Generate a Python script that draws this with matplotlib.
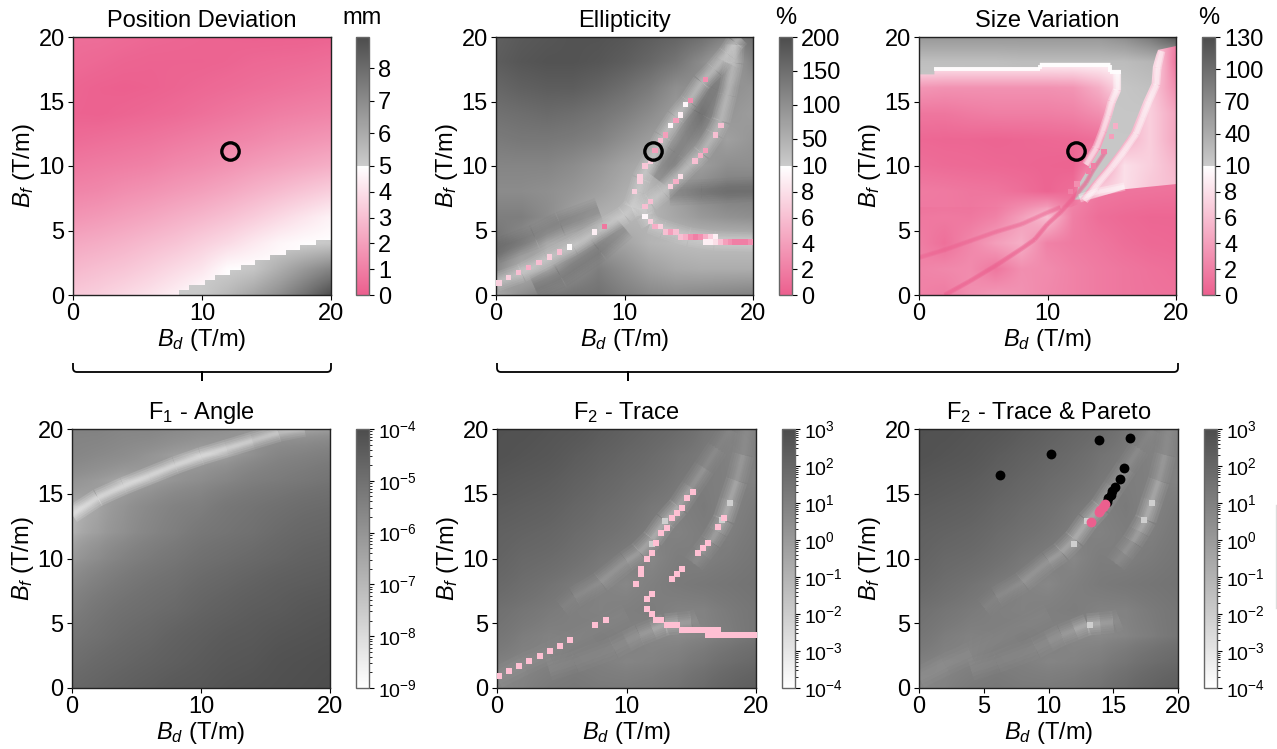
import numpy as np
import matplotlib
matplotlib.use('Agg')
import matplotlib.pyplot as plt
from matplotlib.colors import LinearSegmentedColormap, TwoSlopeNorm, LogNorm, to_rgb
from matplotlib.collections import LineCollection
from matplotlib.patches import Polygon, PathPatch
from matplotlib.path import Path
from matplotlib.lines import Line2D

plt.rcParams['font.family'] = ['Liberation Sans', 'DejaVu Sans']
plt.rcParams['mathtext.fontset'] = 'custom'
plt.rcParams['mathtext.rm'] = 'Liberation Sans'
plt.rcParams['mathtext.it'] = 'Liberation Sans:italic'
plt.rcParams['mathtext.default'] = 'regular'

PINK = '#ec5f8e'
W, H = 1277, 749

# position deviation, mm, rows y=20..0, columns x=0..20 step 2
pos_grid = [
    [.5, .5, .4, .3, .25, .2, .15, .1, .1, .1, .15],
    [.4, .3, .2, .15, .15, .15, .2, .3, .35, .4, .5],
    [.2, .1, .05, .1, .2, .3, .4, .5, .6, .7, .8],
    [.15, .1, .2, .3, .4, .55, .7, .85, 1, 1.1, 1.2],
    [.4, .5, .6, .7, .85, 1, 1.15, 1.3, 1.5, 1.65, 1.8],
    [.8, .9, 1, 1.1, 1.3, 1.45, 1.65, 1.9, 2.1, 2.3, 2.5],
    [1.2, 1.3, 1.5, 1.65, 1.85, 2.05, 2.3, 2.6, 2.9, 3.2, 3.5],
    [1.7, 1.85, 2.05, 2.25, 2.5, 2.75, 3.05, 3.4, 3.8, 4.2, 4.6],
    [2.3, 2.45, 2.65, 2.9, 3.15, 3.5, 3.85, 4.3, 4.7, 4.9, 5.1],
    [2.8, 3, 3.2, 3.5, 3.85, 4.2, 4.9, 5.2, 5.9, 6.6, 7.2],
    [3.3, 3.5, 3.8, 4.1, 4.5, 5.1, 5.6, 6.2, 6.9, 7.8, 8.9],
]
stair_x = [8.2, 9, 10.2, 11, 12.2, 13, 14.1, 15.3, 16.5, 17.6, 18.8, 20]
stair_y = [.36, .75, 1.14, 1.53, 1.94, 2.33, 2.72, 3.1, 3.5, 3.9, 4.3]

# ellipticity, %
ell_grid = [
    [170, 180, 185, 190, 190, 185, 175, 165, 150, 120, 150],
    [175, 185, 190, 190, 185, 175, 160, 140, 105, 60, 120],
    [160, 170, 175, 175, 165, 150, 130, 100, 100, 100, 90],
    [145, 150, 155, 150, 140, 125, 105, 80, 120, 90, 80],
    [130, 135, 135, 130, 120, 100, 80, 75, 105, 75, 90],
    [115, 115, 115, 105, 90, 70, 55, 95, 80, 100, 100],
    [105, 105, 100, 90, 75, 55, 40, 75, 110, 130, 130],
    [125, 125, 105, 75, 50, 40, 45, 65, 85, 95, 100],
    [145, 105, 55, 55, 85, 70, 45, 35, 30, 30, 30],
    [110, 50, 60, 100, 125, 100, 75, 60, 55, 55, 55],
    [60, 100, 130, 140, 145, 125, 110, 105, 110, 115, 120],
]
ell_r1x = [0, 2, 4, 6, 8, 10, 10.6, 11, 11.3, 12, 13, 14, 15, 16, 17, 18, 18.6, 19]
ell_r1y = [1, 1.7, 2.8, 3.8, 5, 6.2, 6.8, 8, 9, 10.3, 12.3, 13.8, 15, 16.5, 17.5, 18.7, 19.6, 20]
ell_r2x = [10.6, 11.6, 12, 13, 14, 15, 16, 17, 17.5, 18, 18.5, 18.6]
ell_r2y = [6.6, 7, 7.2, 8, 9, 10, 11, 12.5, 13.5, 15.5, 18, 19.4]
ell_r3x = [11.5, 11.6, 12, 13, 14, 15, 17, 20]
ell_r3y = [6.8, 6.2, 5.5, 5.1, 4.8, 4.5, 4.2, 4.1]
ell_v1x = [12.5, 14, 16, 17, 18]
ell_v1y = [9, 11, 14, 16, 18]
ell_v2x = [3, 5, 8, 10]
ell_v2y = [.6, 1.5, 3.5, 5.2]
ell_v3x = [0, 3, 5, 8]
ell_v3y = [3.4, 4.5, 5.5, 6.6]
ell_v4x = [13.5, 16, 20]
ell_v4y = [7.9, 8, 8.2]
ell_cell_x = [.23, .98, 1.75, 2.55, 3.34, 4.14, 4.94, 5.72, 7.68, 8.46,
              10.8, 11.2, 11.2, 11.6, 12, 12.37, 12.8, 13.2, 13.6, 14, 14.35, 14.75, 15.15, 16.3,
              12, 13.6, 14, 14.35, 15.5, 15.9, 16.3, 17.1, 17.5,
              11.6, 11.6, 12, 12.37, 12.8, 13.2, 13.6, 14, 14.35,
              14.75, 15.15, 15.55, 15.9, 16.3, 16.7, 17.1,
              16.3, 16.7, 17.1, 17.5, 17.9, 18.3, 18.6, 19, 19.4, 19.8]
ell_cell_y = [.93, 1.34, 1.76, 2.14, 2.53, 2.95, 3.33, 3.72, 4.88, 5.3,
              8.04, 8.8, 9.2, 10, 10.4, 11.2, 12, 12.4, 13.15, 13.55, 13.95, 14.75, 15.1, 16.7,
              7.25, 8.4, 8.8, 9.2, 10.4, 10.8, 11.2, 12.4, 13.15,
              6.87, 6.07, 5.68, 5.3, 5.3, 4.88, 4.88, 4.88, 4.5,
              4.5, 4.5, 4.5, 4.5, 4.5, 4.5, 4.5,
              4.1, 4.1, 4.1, 4.1, 4.1, 4.1, 4.1, 4.1, 4.1, 4.1]
ell_cell_v = [7, 7, 6, 5, 6, 7, 6, 9.8, 9, 1.5,
              7, 7, 7, 6.5, 7, 4, 6, 4, 9.5, 4, 9, 9.5, 3, 3,
              6, 7, 5, 8, 6, 5, 4, 6, 6,
              6, 9.5, 7, 5, 7, 6, 4, 6, 6,
              5, 3, 2, 3, 5, 7, 9,
              9, 9, 8, 6, 4, 3, 2, 2, 2, 3]

# size variation, %
size_grid = [
    [2, 2, 2, 2, 2, 2, 2, 2, 4, 8, 2],
    [9.5, 9.5, 9.5, 9.5, 9.5, 9.5, 9.5, 9.5, 9.5, 9, 1.5],
    [3.5, 3.2, 3.2, 3.2, 3.2, 3.2, 3.4, 5, 8, 7, 3],
    [1.5, 1.5, 1.8, 2, 2, 2, 2.2, 3, 5, 7, 4.5],
    [.6, .5, .5, .4, .5, .6, .7, 1, 5, 7, 4.5],
    [1, .8, .7, .6, .5, .4, .3, 3, 8, 7, 5.5],
    [1.8, 1.7, 1.5, 1.4, 1, .4, 1, 7, 8, 6.5, 6],
    [1.6, 1.7, 1.6, 2.2, 4, 6, 2, 1, .7, .5, .5],
    [2, 1.1, 2.5, 4, 5, 2.2, 1.8, 1.5, 1, .7, .6],
    [2.3, 2.6, 2.8, 1.5, 3, 2.8, 2.2, 1.8, 1.5, 1.2, 1],
    [2.2, 1.8, 3, 3.6, 3.2, 2.6, 2.2, 1.8, 1.5, 1.3, 1.2],
]
size_low_grid = [
    [2, 2, 2, 2, 2, 2, 2, 2, 2, 2, 2],
    [2, 2, 2, 2, 2, 2, 2, 2, 2, 2, 2],
    [2, 2, 2, 2, 2, 2, 2, 2, 2, 2, 2],
    [2, 2, 2, 2, 2, 2, 2, 2, 2, 2, 2],
    [2, 2, 2, 2, 2, 2, 2, 2, 2, 2, 2],
    [2, 2, 2, 2, 2, 2, 2, 2, 1.6, 1.6, 1.6],
    [1, 1, 1, 1, 1, 1, 2.5, 1.6, 1.4, 1.3, 1.2],
    [1.6, 1.7, 1.6, 2.2, 4, 6, 2, 1, .7, .5, .5],
    [2, 1.1, 2.5, 4, 5, 2.2, 1.8, 1.5, 1, .7, .6],
    [2.3, 2.6, 2.8, 1.5, 3, 2.8, 2.2, 1.8, 1.5, 1.2, 1],
    [2.2, 1.8, 3, 3.6, 3.2, 2.6, 2.2, 1.8, 1.5, 1.3, 1.2],
]
size_gray_grid = [
    [60, 60, 60, 60, 60, 60, 60, 60, 70, 90, 125],
    [22, 22, 22, 22, 24, 24, 24, 24, 24, 30, 30],
    [12, 12, 14, 14, 15, 15, 16, 16, 16, 20, 20],
    [12, 12, 12, 12, 12, 12, 14, 14, 15, 15, 15],
    [12, 12, 12, 12, 12, 12, 14, 14, 14, 14, 14],
    [12, 12, 12, 12, 12, 12, 13, 14, 14, 14, 14],
    [12, 12, 12, 12, 12, 12, 13, 13, 13, 13, 13],
    [12, 12, 12, 12, 12, 12, 13, 13, 13, 13, 13],
    [12, 12, 12, 12, 12, 12, 13, 13, 13, 13, 13],
    [12, 12, 12, 12, 12, 12, 13, 13, 13, 13, 13],
    [12, 12, 12, 12, 12, 12, 13, 13, 13, 13, 13],
]
size_gray_x = [0, 20, 20, 18.6, 18.45, 18.2, 18.1, 17.5, 17, 16.5, 15.6, 14.6, 13.5, 12.5,
               12.1, 12.5, 13.3, 14.1, 14.6, 15, 15.3, 15.7, 15.7, 14.9, 14.9, 9.4, 9.4, 1.2, 1.2, 0]
size_gray_y = [20, 20, 19.3, 19, 18.6, 17.7, 16.4, 15.1, 13.85, 12.6, 11.3, 10, 8.7, 7.4,
               7.4, 8.7, 10, 11.3, 12.6, 13.85, 14.9, 15.8, 17.45, 17.45, 18, 18, 17.65, 17.65, 17.1, 17.1]
size_low_x = [11.8, 13, 16, 20, 20, 0, 0, 11.8]
size_low_y = [6.8, 7.3, 8.2, 8.6, 0, 0, 6.8, 6.8]
size_l1x = [0, 2, 4, 6, 8, 10, 11]
size_l1y = [2.9, 3.5, 4.2, 4.9, 5.5, 6.4, 6.8]
size_l2x = [2, 4, 6, 8, 9, 10, 11, 12, 13, 13.5, 14.5]
size_l2y = [0, 1.1, 2.3, 3.6, 4.3, 5.5, 6.4, 7.5, 8.7, 9.6, 11.1]
size_wr_x = [12.9, 13.9, 15, 16, 16.9, 17.4, 17.9, 18.5, 18.6, 18.9]
size_wr_y = [7.3, 8.6, 9.9, 11.2, 12.5, 13.75, 15, 16.3, 17.6, 18.9]
size_wl_x = [13, 13.8, 14.3, 14.7, 15, 15.4, 15.4]
size_wl_y = [10.1, 11.4, 12.7, 13.9, 15, 15.9, 17.2]
size_wt_x = [1.2, 9.4, 9.4, 14.9, 14.9, 15.7]
size_wt_y = [17.5, 17.5, 17.85, 17.85, 17.3, 17.3]
size_tip_x = [12.5, 14, 16]
size_tip_y = [7.5, 8, 8.4]
size_cell_x = [15.3, 15, 14.4, 13.6, 13.2, 12.3, 11.8]
size_cell_y = [13.1, 12.3, 11.1, 10, 9.6, 8.6, 8]
size_cell_v = [5, 4, 2, 2, 2, 3, 2]

# F1 angle, log10 of the value
f1_grid = [
    [-5.5, -5.5, -5.6, -5.6, -5.7, -5.8, -5.9, -6.1, -6.5, -6.7, -6.4],
    [-5.6, -5.7, -5.8, -6.0, -6.3, -6.7, -6.4, -5.9, -5.6, -5.5, -5.4],
    [-6, -6.2, -6.8, -6.4, -6, -5.8, -5.6, -5.4, -5.3, -5.2, -5.1],
    [-7.3, -6.5, -6.0, -5.7, -5.5, -5.4, -5.2, -5.1, -5, -4.9, -4.85],
    [-6.9, -6.3, -5.9, -5.6, -5.4, -5.2, -5.1, -5, -4.85, -4.75, -4.7],
    [-6.2, -5.8, -5.5, -5.3, -5.15, -5, -4.9, -4.8, -4.7, -4.6, -4.55],
    [-5.7, -5.4, -5.2, -5.05, -4.95, -4.8, -4.7, -4.6, -4.5, -4.45, -4.4],
    [-5.4, -5.15, -5, -4.9, -4.8, -4.65, -4.55, -4.45, -4.4, -4.3, -4.25],
    [-5.15, -5, -4.85, -4.75, -4.6, -4.5, -4.4, -4.35, -4.25, -4.2, -4.15],
    [-4.95, -4.8, -4.7, -4.6, -4.5, -4.4, -4.3, -4.25, -4.15, -4.1, -4.05],
    [-4.75, -4.65, -4.55, -4.45, -4.35, -4.3, -4.2, -4.15, -4.1, -4.05, -4],
]
f1_rx = [0, 2, 4, 6, 8, 10, 12, 14, 16, 18]
f1_ry = [13.4, 14.7, 15.6, 16.4, 17.2, 17.9, 18.5, 19.1, 19.7, 20.1]
f1_rs = [1, 1, 1, 1, 1, 1, .9, .8, .6, .3]

# F2 trace, log10 of the value
f2_grid = [
    [2.8, 2.8, 2.7, 2.6, 2.4, 2.2, 2, 1.8, 1.4, 1.0, 1.0],
    [2.8, 2.7, 2.6, 2.4, 2.2, 2, 1.8, 1.5, 1.2, .9, 1.0],
    [2.6, 2.5, 2.4, 2.2, 2, 1.8, 1.6, 1.3, 1.1, 1, .9],
    [2.4, 2.3, 2.2, 2, 1.8, 1.6, 1.3, 1, 1.2, .8, 1.2],
    [2.2, 2.1, 2, 1.8, 1.6, 1.4, 1, .9, 1.1, 1, 1.3],
    [2.1, 1.9, 1.8, 1.6, 1.3, 1, .7, 1.1, 1, 1.2, 1.4],
    [1.9, 1.7, 1.5, 1.2, .9, .7, 1, 1.2, 1.3, 1.4, 1.5],
    [1.6, 1.4, 1.2, 1, .9, 1.0, 1.1, .9, .9, 1.2, 1.4],
    [1.4, 1.1, .9, 1.0, 1.1, 1.0, .7, .6, .8, 1.1, 1.4],
    [1.0, .8, .9, 1.1, 1.0, .8, .9, 1.1, 1.4, 1.7, 1.9],
    [.7, .9, 1.2, 1.3, 1.2, 1.2, 1.3, 1.5, 1.8, 2.1, 2.3],
]
f2_ax = [5, 6, 8, 10, 11, 12, 13, 14, 15, 16, 17, 18]
f2_ay = [6.2, 7, 8.2, 9.8, 10.5, 11.5, 12.9, 14, 15.5, 17, 18.5, 20]
f2_as = [.1, .2, .35, .5, .6, .8, 1, .8, .55, .35, .2, .1]
f2_bx = [15.2, 15.8, 16.5, 17, 17.5, 18, 18.5, 19, 19.3]
f2_by = [9.6, 10.4, 11.3, 12.1, 13, 14.5, 16, 18, 20]
f2_bs = [.1, .3, .5, .7, .9, .9, .6, .3, .15]
f2_cx = [10, 11, 12, 13, 14, 15, 15.5]
f2_cy = [3.6, 4.1, 4.5, 4.9, 5, 5.1, 5.3]
f2_cs = [.1, .3, .6, 1, .7, .3, .1]
f2_dx = [0, 2, 4, 6, 8, 10]
f2_dy = [.8, 1.8, 2.7, 3.7, 4.7, 5.7]
f2_ds = [.3, .3, .2, .15, .15, .15]
f2_ex = [4, 6, 9, 11]
f2_ey = [1.4, 2, 3.1, 4.1]
f2_es = [.15, .25, .3, .3]
f2_peak_x = [12, 13, 17.4, 13.2, 18]
f2_peak_y = [11.1, 12.9, 13, 4.9, 14.3]
trace_x = [.18, .93, 1.7, 2.5, 3.3, 4.08, 4.88, 5.65, 7.6, 8.4,
           10.76, 11.15, 11.15, 11.56, 11.95, 12.3, 12.7, 13.1, 13.5, 13.9, 14.3, 14.7, 15.1,
           11.95, 11.56, 11.56, 11.95, 12.3, 12.7, 13.1, 13.5, 13.9,
           13.5, 13.9, 14.3, 15.5, 15.9, 16.3, 17.1, 17.5]
trace_y = [.93, 1.32, 1.73, 2.12, 2.5, 2.89, 3.28, 3.69, 4.85, 5.24,
           8, 8.8, 9.2, 10, 10.4, 11.2, 11.95, 12.35, 13.15, 13.5, 13.9, 14.7, 15.1,
           7.25, 6.85, 6.07, 5.68, 5.28, 5.28, 4.88, 4.88, 4.88,
           8.4, 8.8, 9.2, 10.4, 10.8, 11.2, 12.4, 13.15]
trace_hx = [14.3, 14.7, 15.1, 15.5, 15.9, 16.3, 16.7, 17.1, 16.3, 16.7, 17.1, 17.5, 17.9, 18.3, 18.7, 19.1, 19.5, 19.9]
trace_hy = [4.5, 4.5, 4.5, 4.5, 4.5, 4.5, 4.5, 4.5, 4.1, 4.1, 4.1, 4.1, 4.1, 4.1, 4.1, 4.1, 4.1, 4.1]

pareto_bx = [6.24, 10.18, 13.9, 16.26, 15.8, 15.54, 15.15, 14.9, 14.8, 14.6, 14.5]
pareto_by = [16.47, 18.04, 19.15, 19.3, 17, 16.16, 15.5, 15.2, 14.9, 14.66, 14.4]
pareto_px = [14.35, 14.2, 14, 13.87, 13.3]
pareto_py = [14.2, 14, 13.76, 13.6, 12.8]
chosen_x = 12.2
chosen_y = 11.15


def split_cmap():
    return LinearSegmentedColormap.from_list('split', [
        (0, PINK), (.499, '#ffffff'), (.501, '#cbcbcb'), (1, '#4d4d4d')], N=512)


def axes_px(fig, l, t, r, b):
    return fig.add_axes([l / W, 1 - b / H, (r - l) / W, (b - t) / H])


def draw(ax, grid, cmap, norm, clip_x=None, clip_y=None):
    im = ax.imshow(grid, extent=[-1, 21, -1, 21], origin='upper', cmap=cmap, norm=norm,
                   interpolation='bilinear', interpolation_stage='data', aspect='auto', zorder=1)
    if clip_x is not None:
        im.set_clip_path(Polygon(np.column_stack([clip_x, clip_y]), transform=ax.transData))
    ax.set_xlim(0, 20)
    ax.set_ylim(0, 20)
    return im


def glow(ax, x, y, color='#d8d8d8', widths=(14, 11, 8, 6, 4, 2), alpha=.1, strength=None):
    # soft ridge: stack of thin-to-wide strokes, strength fades it along its length
    pts = np.column_stack([x, y])
    segs = [pts[i:i + 2] for i in range(len(pts) - 1)]
    if strength is None:
        strength = [1] * len(pts)
    rgb = to_rgb(color)
    cols = [rgb + (alpha * (strength[i] + strength[i + 1]) / 2,) for i in range(len(segs))]
    for w in widths:
        ax.add_collection(LineCollection(segs, colors=cols, linewidths=w, capstyle='butt', zorder=2))


def style(ax, xticks=(0, 10, 20)):
    ax.set_xticks(list(xticks))
    ax.set_yticks([0, 5, 10, 15, 20])
    ax.tick_params(labelsize=17, length=3.5, width=.8, pad=2.5)
    ax.set_xlabel(r'$\mathit{B_d}$ (T/m)', fontsize=17, labelpad=1)
    ax.set_ylabel(r'$\mathit{B_f}$ (T/m)', fontsize=17, labelpad=1)
    for s in ax.spines.values():
        s.set_color('#222222')
        s.set_linewidth(1)


def cbar(fig, im, pos, ticks=None, labelsize=17):
    cax = axes_px(fig, *pos)
    cb = fig.colorbar(im, cax=cax, ticks=ticks)
    cb.outline.set_edgecolor('#666666')
    cb.outline.set_linewidth(1)
    cax.tick_params(labelsize=labelsize, length=3.5, width=.8, pad=3)
    return cb


def bracket(fig, x0, x1, xm):
    y0, y1, y2, r = 363, 372, 381, 4
    pts = [(x0, y0), (x0, y1 - r), (x0, y1), (x0 + r, y1), (xm, y1), (xm, y2), (xm, y1),
           (x1 - r, y1), (x1, y1), (x1, y1 - r), (x1, y0)]
    codes = [Path.MOVETO, Path.LINETO, Path.CURVE3, Path.CURVE3, Path.LINETO, Path.LINETO,
             Path.LINETO, Path.LINETO, Path.CURVE3, Path.CURVE3, Path.LINETO]
    verts = [(px / W, 1 - py / H) for px, py in pts]
    fig.add_artist(PathPatch(Path(verts, codes), fc='none', ec='black', lw=1.3,
                             transform=fig.transFigure))


fig = plt.figure(figsize=(12.77, 7.49), dpi=100)
cmap = split_cmap()
gray = LinearSegmentedColormap.from_list('g', ['#ffffff', '#4d4d4d'], N=512)

# top row
ax1 = axes_px(fig, 73, 37, 331, 295)
norm1 = TwoSlopeNorm(vmin=0, vcenter=5, vmax=8.95)
pos = np.array(pos_grid)
im1 = draw(ax1, np.minimum(pos, 4.99), cmap, norm1)
stair_px = [stair_x[0]]
stair_py = [0]
for i, v in enumerate(stair_y):
    stair_px += [stair_x[i], stair_x[i + 1]]
    stair_py += [v, v]
stair_px += [20]
stair_py += [0]
draw(ax1, np.maximum(pos, 5.01), cmap, norm1, stair_px, stair_py)
ax1.set_title('Position Deviation', fontsize=17, pad=7)
style(ax1)
ax1.plot([chosen_x], [chosen_y], 'o', ms=12.5, mfc='none', mec='black', mew=2.4, zorder=5)
cbar(fig, im1, (356, 37, 369, 295), [0, 1, 2, 3, 4, 5, 6, 7, 8])
fig.text(362.5 / W, 1 - 18 / H, 'mm', fontsize=17, ha='center', va='center')

ax2 = axes_px(fig, 496, 37, 753, 295)
norm2 = TwoSlopeNorm(vmin=0, vcenter=10, vmax=200)
im2 = draw(ax2, ell_grid, cmap, norm2)
for vx, vy in ((ell_v1x, ell_v1y), (ell_v2x, ell_v2y), (ell_v3x, ell_v3y), (ell_v4x, ell_v4y)):
    glow(ax2, vx, vy, color='#555555', widths=(18, 14, 11, 8, 5), alpha=.06)
glow(ax2, ell_r1x, ell_r1y, color='#dcdcdc', alpha=.11)
glow(ax2, ell_r2x, ell_r2y, color='#dcdcdc', alpha=.1)
glow(ax2, ell_r3x, ell_r3y, color='#dcdcdc', alpha=.1)
ax2.scatter(ell_cell_x, ell_cell_y, c=ell_cell_v, s=15, marker='s', linewidths=0, cmap=cmap, norm=norm2, zorder=3)
ax2.set_title('Ellipticity', fontsize=17, pad=7)
style(ax2)
ax2.plot([chosen_x], [chosen_y], 'o', ms=12.5, mfc='none', mec='black', mew=2.4, zorder=5)
cbar(fig, im2, (779, 37, 792, 295), [0, 2, 4, 6, 8, 10, 50, 100, 150, 200])
fig.text(785.5 / W, 1 - 18 / H, '%', fontsize=17, ha='center', va='center')

ax3 = axes_px(fig, 919, 37, 1176, 295)
norm3 = TwoSlopeNorm(vmin=0, vcenter=10, vmax=130)
im3 = draw(ax3, size_grid, cmap, norm3)
draw(ax3, size_low_grid, cmap, norm3, size_low_x, size_low_y)
draw(ax3, size_gray_grid, cmap, norm3, size_gray_x, size_gray_y)
glow(ax3, size_l1x, size_l1y, color=PINK, widths=(3.5, 2), alpha=.3)
glow(ax3, size_l2x, size_l2y, color=PINK, widths=(3.5, 2), alpha=.4)
glow(ax3, size_wr_x, size_wr_y, color='white', widths=(5, 3), alpha=.35)
glow(ax3, size_wl_x, size_wl_y, color='white', widths=(6, 4, 2.5), alpha=.3)
glow(ax3, size_wt_x, size_wt_y, color='white', widths=(2.8,), alpha=.9)
glow(ax3, size_tip_x, size_tip_y, color='white', widths=(6, 3), alpha=.3)
ax3.scatter(size_cell_x, size_cell_y, c=size_cell_v, s=15, marker='s', linewidths=0, cmap=cmap, norm=norm3, zorder=3)
ax3.set_title('Size Variation', fontsize=17, pad=7)
style(ax3)
ax3.plot([chosen_x], [chosen_y], 'o', ms=12.5, mfc='none', mec='black', mew=2.4, zorder=5)
cbar(fig, im3, (1202, 37, 1215, 295), [0, 2, 4, 6, 8, 10, 40, 70, 100, 130])
fig.text(1208.5 / W, 1 - 18 / H, '%', fontsize=17, ha='center', va='center')

bracket(fig, 73, 331, 202)
bracket(fig, 497, 1178, 628)

# bottom row
ax4 = axes_px(fig, 72, 429, 330, 688)
norm4 = LogNorm(vmin=1e-9, vmax=1e-4)
im4 = draw(ax4, 10.0 ** np.array(f1_grid), gray, norm4)
glow(ax4, f1_rx, f1_ry, color='#f0f0f0', widths=(13, 10, 7, 5, 3.5, 2), alpha=.17, strength=f1_rs)
ax4.set_title('F$_1$ - Angle', fontsize=17, pad=7)
style(ax4)
cbar(fig, im4, (356, 429, 369, 688), labelsize=14)

norm5 = LogNorm(vmin=1e-4, vmax=1e3)
f2 = 10.0 ** np.array(f2_grid)

ax5 = axes_px(fig, 497, 429, 756, 688)
im5 = draw(ax5, f2, gray, norm5)
ax6 = axes_px(fig, 919, 429, 1178, 688)
im6 = draw(ax6, f2, gray, norm5)
for ax in (ax5, ax6):
    glow(ax, f2_ax, f2_ay, color='#dcdcdc', widths=(16, 12, 9, 6, 4, 2.5), alpha=.11, strength=f2_as)
    glow(ax, f2_bx, f2_by, color='#dcdcdc', widths=(16, 12, 9, 6, 4, 2.5), alpha=.11, strength=f2_bs)
    glow(ax, f2_cx, f2_cy, color='#dcdcdc', widths=(16, 12, 9, 6, 4, 2.5), alpha=.11, strength=f2_cs)
    glow(ax, f2_dx, f2_dy, color='#dcdcdc', widths=(16, 10, 5), alpha=.12, strength=f2_ds)
    glow(ax, f2_ex, f2_ey, color='#dcdcdc', widths=(16, 10, 5), alpha=.12, strength=f2_es)
    ax.scatter(f2_peak_x, f2_peak_y, s=15, marker='s', linewidths=0, color='#cfcfcf', zorder=2)

ax5.scatter(trace_x, trace_y, s=15, marker='s', linewidths=0, color='#ffc0d3', zorder=3)
ax5.scatter(trace_hx, trace_hy, s=15, marker='s', linewidths=0, color='#ffc0d3', zorder=3)
ax5.set_title('F$_2$ - Trace', fontsize=17, pad=7)
style(ax5)
cbar(fig, im5, (782, 429, 795, 688), labelsize=14)

ax6.scatter(pareto_bx, pareto_by, s=50, color='black', linewidths=0, zorder=4)
ax6.scatter(pareto_px, pareto_py, s=50, color=PINK, linewidths=0, zorder=5)
ax6.set_title('F$_2$ - Trace & Pareto', fontsize=17, pad=7)
style(ax6, xticks=(0, 5, 10, 15, 20))
cbar(fig, im6, (1204, 429, 1217, 688), labelsize=14)

fig.add_artist(Line2D([1276 / W, 1276 / W], [1 - 505 / H, 1 - 608 / H], color='#dddddd', lw=1))

fig.savefig('out.png', dpi=100)
